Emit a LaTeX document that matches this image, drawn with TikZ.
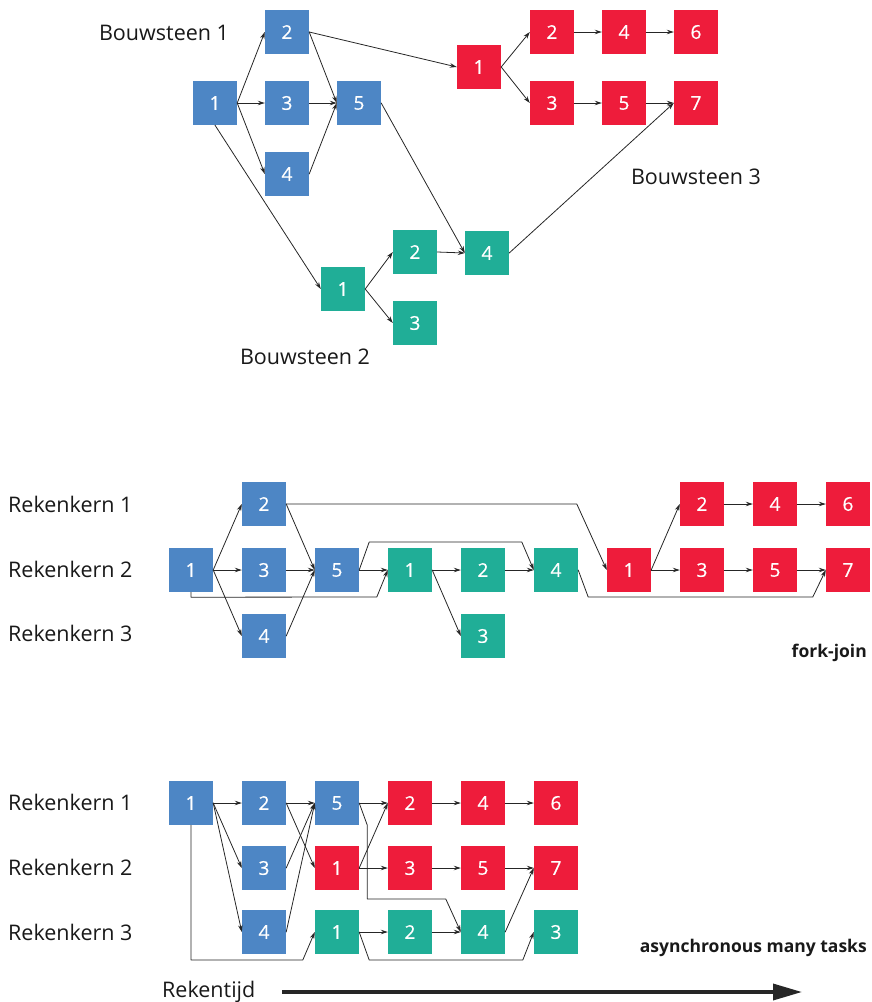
\documentclass[tikz,border=0pt]{standalone}
\usepackage{fontspec}
\setmainfont{Open Sans}
\usetikzlibrary{arrows.meta}
\definecolor{bsblauw}{HTML}{4D86C5}
\definecolor{bsrood}{HTML}{EE1C3B}
\definecolor{bsgroen}{HTML}{20AE97}

\begin{document}
\begin{tikzpicture}[x=1pt,y=-1pt,>={Stealth[length=7pt,width=4.5pt]},line cap=round,line join=round,
  taak/.style={minimum size=44pt,inner sep=0pt,text=white,font=\fontsize{19}{19}\selectfont\addfontfeatures{FakeBold=0.6}},
  blauw/.style={taak,fill=bsblauw},
  rood/.style={taak,fill=bsrood},
  groen/.style={taak,fill=bsgroen},
  pijl/.style={->,line width=0.8pt,draw=black!85},
  etiket/.style={font=\fontsize{21.5}{22}\selectfont,text=black!90,inner sep=0pt},
  kop/.style={font=\fontsize{17.5}{18}\selectfont\bfseries,text=black!90,inner sep=0pt}]
\useasboundingbox (0,0) rectangle (871,1002);

% bouwstenen
\node[blauw] (a1) at (215,103) {1};
\node[blauw] (a2) at (287,32) {2};
\node[blauw] (a3) at (287,103) {3};
\node[blauw] (a4) at (287,174) {4};
\node[blauw] (a5) at (359,103) {5};
\node[groen] (b1) at (343,289) {1};
\node[groen] (b2) at (415,252) {2};
\node[groen] (b3) at (415,323) {3};
\node[groen] (b4) at (487,253) {4};
\node[rood] (c1) at (479,67) {1};
\node[rood] (c2) at (552,32) {2};
\node[rood] (c3) at (552,103) {3};
\node[rood] (c4) at (624,32) {4};
\node[rood] (c5) at (624,103) {5};
\node[rood] (c6) at (696,32) {6};
\node[rood] (c7) at (696,103) {7};
\node[etiket] (bs1) at (164,33) {Bouwsteen 1};
\node[etiket] (bs2) at (305,357) {Bouwsteen 2};
\node[etiket] (bs3) at (696,177) {Bouwsteen 3};

\foreach \t in {a2,a3,a4} {\draw[pijl] (a1.east) -- (\t.west); \draw[pijl] (\t.east) -- (a5.west);}
\draw[pijl] (a1.south) -- (b1.west);
\draw[pijl] (a2.east) -- (c1.west);
\draw[pijl] (a5.east) -- (b4.west);
\draw[pijl] (b1.east) -- (b2.west);
\draw[pijl] (b1.east) -- (b3.west);
\draw[pijl] (b2.east) -- (b4.west);
\draw[pijl] (b4.east) -- (c7.west);
\draw[pijl] (c1.east) -- (c2.west);
\draw[pijl] (c1.east) -- (c3.west);
\foreach \s/\t in {c2/c4,c4/c6,c3/c5,c5/c7} {\draw[pijl] (\s.east) -- (\t.west);}

% fork-join
\node[blauw] (fa1) at (191,570) {1};
\node[blauw] (fa2) at (264,504) {2};
\node[blauw] (fa3) at (264,570) {3};
\node[blauw] (fa4) at (264,636) {4};
\node[blauw] (fa5) at (337,570) {5};
\node[groen] (fb1) at (410,570) {1};
\node[groen] (fb2) at (483,570) {2};
\node[groen] (fb3) at (483,636) {3};
\node[groen] (fb4) at (556,570) {4};
\node[rood] (fc1) at (629,570) {1};
\node[rood] (fc2) at (702,504) {2};
\node[rood] (fc3) at (702,570) {3};
\node[rood] (fc4) at (775,504) {4};
\node[rood] (fc5) at (775,570) {5};
\node[rood] (fc6) at (848,504) {6};
\node[rood] (fc7) at (848,570) {7};
\foreach \k/\y in {1/504,2/569,3/633} {\node[etiket,anchor=west] (fk\k) at (8,\y) {Rekenkern \k};}
\node[kop,anchor=base east] (fj) at (867,657) {fork-join};

\foreach \t in {fa2,fa3,fa4} {\draw[pijl] (fa1.east) -- (\t.west); \draw[pijl] (\t.east) -- (fa5.west);}
\draw[pijl] (fa5.east) -- (fb1.west);
\draw[pijl] (fb1.east) -- (fb2.west);
\draw[pijl] (fb1.east) -- (fb3.west);
\draw[pijl] (fb2.east) -- (fb4.west);
\draw[pijl] (fc1.east) -- (fc2.west);
\draw[pijl] (fc1.east) -- (fc3.west);
\foreach \s/\t in {fc2/fc4,fc4/fc6,fc3/fc5,fc5/fc7} {\draw[pijl] (\s.east) -- (\t.west);}
\draw[pijl] (fa1.south) -- ++(0,5) -- ([shift={(-11,27)}]fb1.west) -- (fb1.west);
\draw[pijl] (fa5.east) -- ([shift={(10,-28)}]fa5.east) -- ([shift={(-12,-28)}]fb4.west) -- (fb4.west);
\draw[pijl] (fa2.east) -- ([shift={(-30,-66)}]fc1.west) -- (fc1.west);
\draw[pijl] (fb4.east) -- ([shift={(10,27)}]fb4.east) -- ([shift={(-13,27)}]fc7.west) -- (fc7.west);

% asynchronous many tasks
\node[blauw] (ma1) at (191,803) {1};
\node[blauw] (ma2) at (264,803) {2};
\node[blauw] (ma3) at (264,868) {3};
\node[blauw] (ma4) at (264,932) {4};
\node[blauw] (ma5) at (337,803) {5};
\node[groen] (mb1) at (337,932) {1};
\node[groen] (mb2) at (410,932) {2};
\node[groen] (mb4) at (483,932) {4};
\node[groen] (mb3) at (556,932) {3};
\node[rood] (mc1) at (337,868) {1};
\node[rood] (mc2) at (410,803) {2};
\node[rood] (mc3) at (410,868) {3};
\node[rood] (mc4) at (483,803) {4};
\node[rood] (mc5) at (483,868) {5};
\node[rood] (mc6) at (556,803) {6};
\node[rood] (mc7) at (556,868) {7};
\foreach \k/\y in {1/802,2/867,3/932} {\node[etiket,anchor=west] (mk\k) at (8,\y) {Rekenkern \k};}
\node[kop,anchor=base east] (amt) at (867,952) {asynchronous many tasks};

\foreach \t in {ma2,ma3,ma4} {\draw[pijl] (ma1.east) -- (\t.west); \draw[pijl] (\t.east) -- (ma5.west);}
\draw[pijl] (ma2.east) -- (mc1.west);
\draw[pijl] (ma5.east) -- (mc2.west);
\draw[pijl] (mc1.east) -- (mc2.west);
\draw[pijl] (mc1.east) -- (mc3.west);
\foreach \s/\t in {mc2/mc4,mc4/mc6,mc3/mc5,mc5/mc7,mb1/mb2,mb2/mb4,mb4/mc7} {\draw[pijl] (\s.east) -- (\t.west);}
\draw[pijl] (ma5.east) -- ++(8,22) |- ([shift={(-15,-33)}]mb4.west) -- (mb4.west);
\draw[pijl] (ma1.south) |- ([shift={(-12,28)}]mb1.west) -- (mb1.west);
\draw[pijl] (mb1.east) -- ++(10,28) -- ([shift={(-11,28)}]mb3.west) -- (mb3.west);

% rekentijd
\node[etiket,anchor=base west] (tijd) at (162,997) {Rekentijd};
\coordinate (tijdbegin) at (282,992);
\coordinate (tijdeind) at (802,992);
\draw[line width=3.5pt,black!85,line cap=butt,-{Triangle[length=29pt,width=16pt]}] (tijdbegin) -- (tijdeind);
\end{tikzpicture}
\end{document}
